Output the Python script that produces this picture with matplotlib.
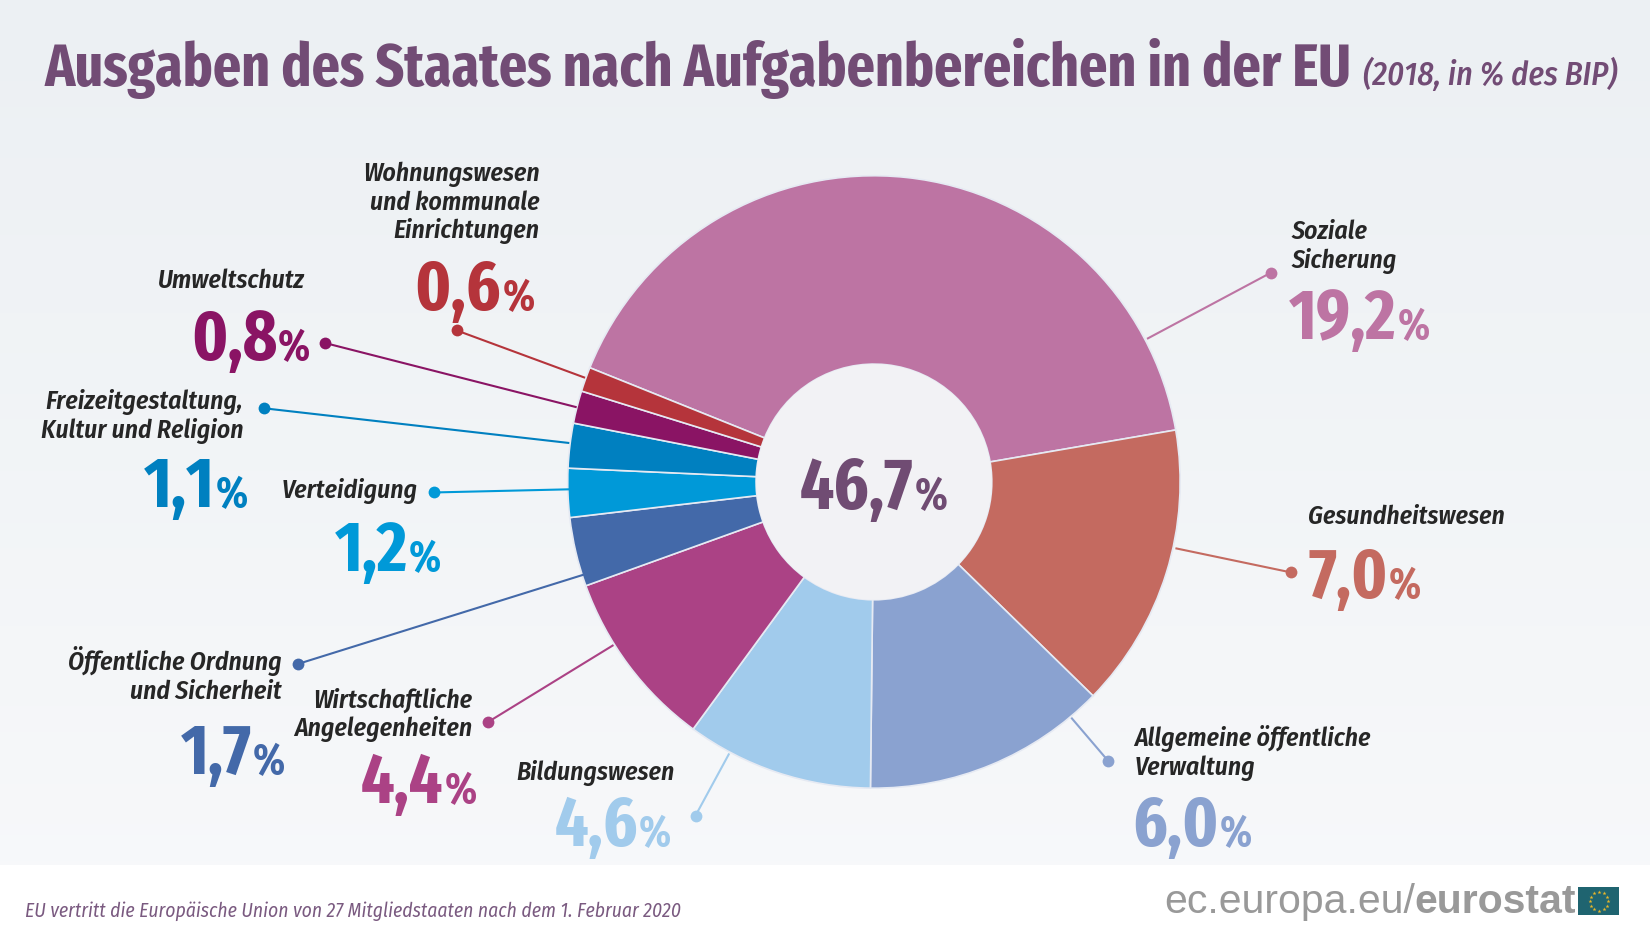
import numpy as np
import matplotlib
matplotlib.use('Agg')
import matplotlib.pyplot as plt
from matplotlib.patches import Circle, Rectangle

# condensed families, with the plain ones behind them in case they are missing.
# sizes are fitted to measured widths below so a fallback only shrinks the text
HEAVY = ['Fira Sans Extra Condensed', 'Open Sans', 'DejaVu Sans']
LABEL = ['Fira Sans Condensed', 'Open Sans', 'DejaVu Sans']
plt.rcParams['font.family'] = LABEL

# slices, clockwise starting at the big one
values = [19.2, 7.0, 6.0, 4.6, 4.4, 1.7, 1.2, 1.1, 0.8, 0.6]
total = 46.7
labels = ['Soziale\nSicherung', 'Gesundheitswesen', 'Allgemeine öffentliche\nVerwaltung',
          'Bildungswesen', 'Wirtschaftliche\nAngelegenheiten', 'Öffentliche Ordnung\nund Sicherheit',
          'Verteidigung', 'Freizeitgestaltung,\nKultur und Religion', 'Umweltschutz',
          'Wohnungswesen\nund kommunale\nEinrichtungen']
colors = ['#bd74a3', '#c46a60', '#8aa2d0', '#a1cbec', '#ab4285',
          '#4369a9', '#0099d8', '#0080c0', '#8a1464', '#b5343b']
title = 'Ausgaben des Staates nach Aufgabenbereichen in der EU'
subtitle = '(2018, in % des BIP)'
footnote = 'EU vertritt die Europäische Union von 27 Mitgliedstaaten nach dem 1. Februar 2020'

# layout, in pixels of the 1568 wide preview
# ha, label x, first label baseline, value x, value baseline
label_pos = [('left', 1227, 227, 1225, 322), ('left', 1243, 498, 1243, 568),
             ('left', 1078, 709, 1076, 804), ('right', 641, 741, 637, 804),
             ('right', 449, 672, 452, 763), ('right', 268, 637, 270, 736),
             ('right', 397, 473, 418, 543), ('right', 231, 389, 235, 482),
             ('right', 290, 274, 294, 342), ('right', 513, 172, 507, 295)]
leaders = [(1090, 322, 1208, 259), (1117, 521, 1227, 544), (1018, 682, 1053, 723),
           (693, 716, 661, 775), (583, 613, 464, 686), (555, 546, 283, 631),
           (541, 465, 412, 468), (541, 421, 251, 388), (548, 387, 309, 326),
           (556, 359, 434, 314)]

W, H = 1650, 942
S = W / 1568.0


def px(x, y):
    return x * S, H - y * S


fig = plt.figure(figsize=(16.5, 9.42), dpi=100)
ax = fig.add_axes([0, 0, 1, 1])
renderer = fig.canvas.get_renderer()


def fit_size(text, width, **kw):
    # font size that makes text come out width preview pixels wide
    t = fig.text(0, 0, text, fontsize=40, **kw)
    w = t.get_window_extent(renderer).width
    t.remove()
    return 40 * width * S / w


cx, cy = px(830.5, 458)
radius = 291 * S
hole = 112 * S
ax.pie(values, colors=colors, startangle=158.1, counterclock=False, center=(cx, cy), radius=radius,
       wedgeprops=dict(width=radius - hole, edgecolor='#e6eaf3', linewidth=1.2, zorder=3))
ax.add_patch(Circle((cx, cy), hole, facecolor='#f2f2f5', edgecolor='none', zorder=4))

# background
grad = np.linspace(0, 1, 256).reshape(-1, 1)
top = np.array([0xec, 0xf0, 0xf3]) / 255.0
bot = np.array([0xf8, 0xf9, 0xfb]) / 255.0
ax.imshow(top + (bot - top) * grad[:, :, None], extent=(0, W, 0, H), aspect='auto', zorder=0)
ax.set_xlim(0, W)
ax.set_ylim(0, H)
ax.set_aspect('auto')
ax.axis('off')
ax.add_patch(Rectangle((0, 0), W, H - 822 * S, facecolor='white', edgecolor='none', zorder=1))

heavy = dict(family=HEAVY, fontweight='bold')
label_font = dict(family=LABEL, fontweight=600, style='italic')
value_size = fit_size('19,2', 102, **heavy)
label_size = fit_size('Gesundheitswesen', 187, **label_font)


def value_text(x, y, val, color, ha, size):
    num = f'{val:.1f}'.replace('.', ',')
    x0, y0 = px(x, y)
    t1 = ax.text(x0, y0, num, color=color, fontsize=size, va='baseline', ha='left', zorder=6, **heavy)
    t2 = ax.text(x0, y0, '%', color=color, fontsize=size * 0.62, va='baseline', ha='left', zorder=6, **heavy)
    w1 = t1.get_window_extent(renderer).width
    w2 = t2.get_window_extent(renderer).width
    if ha == 'right':
        left = x0 - w1 - w2
    elif ha == 'center':
        left = x0 - (w1 + w2) / 2
    else:
        left = x0
    t1.set_x(left)
    t2.set_x(left + w1 + 1)


for val, lab, col, pos, lead in zip(values, labels, colors, label_pos, leaders):
    ha, lx, ly, vx, vy = pos
    for i, line in enumerate(lab.split('\n')):
        x, y = px(lx, ly + i * 27.3)
        ax.text(x, y, line, color='#262626', fontsize=label_size, ha=ha, va='baseline', zorder=6, **label_font)
    value_text(vx, vy, val, col, ha, value_size)
    x1, y1 = px(lead[0], lead[1])
    x2, y2 = px(lead[2], lead[3])
    ax.plot([x1, x2], [y1, y2], color=col, lw=1.5, zorder=5, solid_capstyle='butt')
    ax.plot([x2], [y2], 'o', color=col, ms=8.5, mec='none', zorder=5)

# total in the hole
value_text(830, 484, total, '#704c73', 'center', fit_size('46,7', 108, **heavy))

# heading
x, y = px(42, 82)
ax.text(x, y, title, color='#724c75', fontsize=fit_size(title, 1240, **heavy), va='baseline', zorder=6, **heavy)
x, y = px(1295, 81)
sub_font = dict(family=LABEL, fontweight=500, style='italic')
ax.text(x, y, subtitle, color='#724c75', fontsize=fit_size(subtitle, 242, **sub_font), va='baseline', zorder=6,
        **sub_font)

# footer
foot_font = dict(family=LABEL, style='italic')
x, y = px(24, 871)
ax.text(x, y, footnote, color='#7a5a80', fontsize=fit_size(footnote, 624, **foot_font), va='baseline', zorder=6,
        **foot_font)
x, y = px(1106, 868)
t = ax.text(x, y, 'ec.europa.eu/', color='#999999', fontsize=29.5, family='Liberation Sans', va='baseline', zorder=6)
ax.text(x + t.get_window_extent(renderer).width, y, 'eurostat', color='#999999', fontsize=29.5,
        family='Liberation Sans', fontweight='bold', va='baseline', zorder=6)

# EU flag
fx, fy = px(1500, 870)
fw, fh = 39 * S, 27 * S
ax.add_patch(Rectangle((fx, fy), fw, fh, facecolor='#1f6470', edgecolor='none', zorder=6))
ang = np.deg2rad(np.arange(0, 360, 30))
ax.scatter(fx + fw / 2 + 0.33 * fh * np.cos(ang), fy + fh / 2 + 0.33 * fh * np.sin(ang),
           marker='*', s=9, color='#e8b72a', linewidths=0, zorder=7)

fig.savefig('out.png', dpi=100)
